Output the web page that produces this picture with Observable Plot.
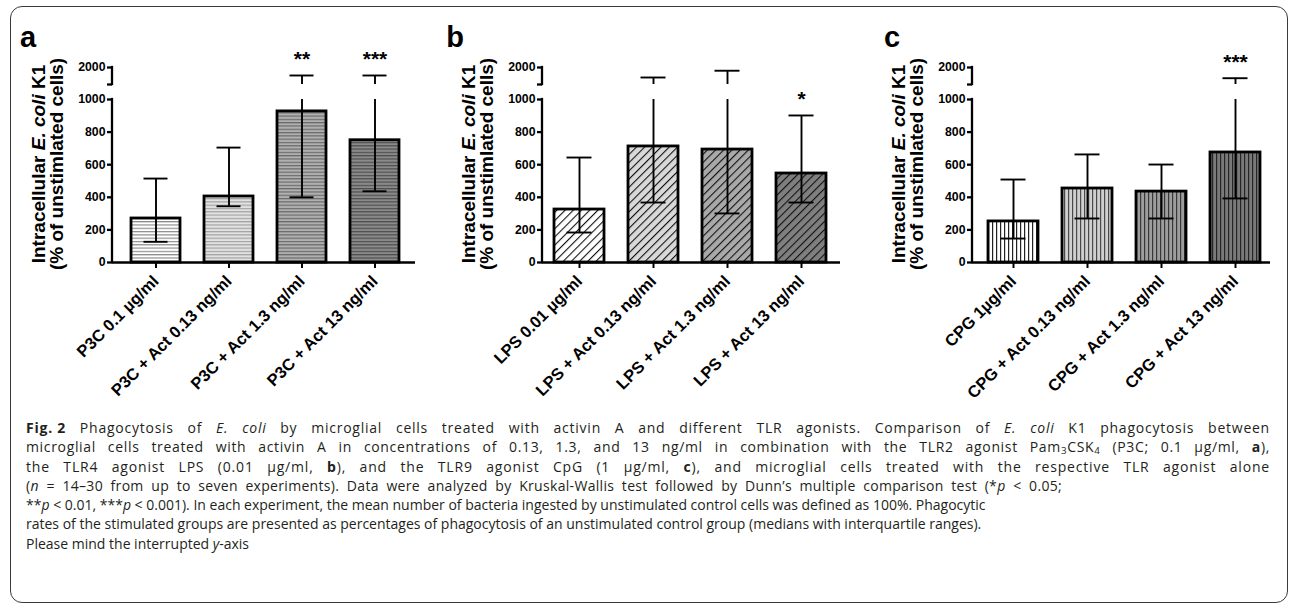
<!DOCTYPE html>
<html><head><meta charset="utf-8">
<script src="https://cdn.jsdelivr.net/npm/d3@7"></script>
<script src="https://cdn.jsdelivr.net/npm/@observablehq/plot@0.6"></script>
<style>
body{margin:0;background:#fff;}
#wrap{position:relative;width:1295px;height:605px;overflow:hidden;font-family:"Liberation Sans",Arial,sans-serif;}
#frame{position:absolute;left:10px;top:6px;width:1278px;height:597px;border:1.5px solid #3a3a3a;border-radius:12px;box-sizing:border-box;}
.panel{position:absolute;top:0;}
#caption{position:absolute;left:26px;top:418px;width:1250px;font-family:"Open Sans",sans-serif;font-size:14px;line-height:19.3px;color:#231f20;}
.ln{white-space:nowrap;}
.ln span.in{display:inline-block;white-space:nowrap;}
.ln b.fig{word-spacing:normal;}
sub{font-size:70%;vertical-align:-2px;line-height:0;}
</style></head>
<body>
<div id="wrap">
<svg id="defs" width="0" height="0" style="position:absolute;left:0;top:0"><defs></defs></svg>
<div id="frame"></div>
<div id="pa" class="panel" style="left:0px"></div>
<div id="pb" class="panel" style="left:430px"></div>
<div id="pc" class="panel" style="left:860px"></div>
<div id="caption">
<div class="ln" data-w="1244"><span class="in"><b class="fig">Fig. 2</b> Phagocytosis of <i>E. coli</i> by microglial cells treated with activin A and different TLR agonists. Comparison of <i>E. coli</i> K1 phagocytosis between</span></div>
<div class="ln" data-w="1244"><span class="in">microglial cells treated with activin A in concentrations of 0.13, 1.3, and 13 ng/ml in combination with the TLR2 agonist Pam<sub>3</sub>CSK<sub>4</sub> (P3C; 0.1 µg/ml, <b>a</b>),</span></div>
<div class="ln" data-w="1244"><span class="in">the TLR4 agonist LPS (0.01 µg/ml, <b>b</b>), and the TLR9 agonist CpG (1 µg/ml, <b>c</b>), and microglial cells treated with the respective TLR agonist alone</span></div>
<div class="ln" data-w="1036"><span class="in">(<i>n</i> = 14–30 from up to seven experiments). Data were analyzed by Kruskal-Wallis test followed by Dunn’s multiple comparison test (*<i>p</i> &lt; 0.05;</span></div>
<div class="ln"><span class="in">**<i>p</i> &lt; 0.01, ***<i>p</i> &lt; 0.001). In each experiment, the mean number of bacteria ingested by unstimulated control cells was defined as 100%. Phagocytic</span></div>
<div class="ln"><span class="in">rates of the stimulated groups are presented as percentages of phagocytosis of an unstimulated control group (medians with interquartile ranges).</span></div>
<div class="ln"><span class="in">Please mind the interrupted <i>y</i>-axis</span></div>
</div>
</div>
<script>
// ---- data ----
const catsA = ["P3C 0.1 µg/ml", "P3C + Act 0.13 ng/ml", "P3C + Act 1.3 ng/ml", "P3C + Act 13 ng/ml"];
const medA = [270, 405, 927, 750];
const q1A = [127, 345, 400, 437];
const q3A = [515, 705, 1765, 1765];
const starsA = ["", "", "**", "***"];

const catsB = ["LPS 0.01 µg/ml", "LPS + Act 0.13 ng/ml", "LPS + Act 1.3 ng/ml", "LPS + Act 13 ng/ml"];
const medB = [325, 712, 693, 546];
const q1B = [184, 368, 301, 368];
const q3B = [644, 1706, 1905, 902];
const starsB = ["", "", "", "*"];

const catsC = ["CPG 1µg/ml", "CPG + Act 0.13 ng/ml", "CPG + Act 1.3 ng/ml", "CPG + Act 13 ng/ml"];
const medC = [252, 454, 435, 675];
const q1C = [147, 270, 270, 393];
const q3C = [509, 663, 601, 1685];
const starsC = ["", "", "", "***"];

const yTicks = [0, 200, 400, 600, 800, 1000, 1500, 2000];
const yBreak = [1000, 1500]; // interrupted segment of the y-axis

// ---- patterns ----
const NS = "http://www.w3.org/2000/svg";
const defs = document.querySelector("#defs defs");
function pat(id, base, line, period, lw, rot) {
  const p = document.createElementNS(NS, "pattern");
  p.setAttribute("id", id);
  p.setAttribute("patternUnits", "userSpaceOnUse");
  p.setAttribute("width", period);
  p.setAttribute("height", period);
  if (rot) p.setAttribute("patternTransform", `rotate(${rot})`);
  const r = document.createElementNS(NS, "rect");
  r.setAttribute("width", period); r.setAttribute("height", period); r.setAttribute("fill", base);
  p.appendChild(r);
  const l = document.createElementNS(NS, "rect");
  if (rot === 0) { l.setAttribute("width", period); l.setAttribute("height", lw); }
  else { l.setAttribute("width", lw); l.setAttribute("height", period); }
  l.setAttribute("fill", line);
  p.appendChild(l);
  defs.appendChild(p);
}
const baseA = ["#ffffff", "#e2e2e2", "#b0b0b0", "#8a8a8a"], lineA = ["#8c8c8c", "#a2a2a2", "#6a6a6a", "#4e4e4e"];
const baseB = ["#ffffff", "#d9d9d9", "#a9a9a9", "#7f7f7f"], lineB = ["#111", "#111", "#111", "#111"];
const baseC = ["#ffffff", "#cfcfcf", "#9d9d9d", "#7a7a7a"], lineC = ["#222", "#4a4a4a", "#383838", "#262626"];
for (let i = 0; i < 4; i++) {
  pat("pa" + i, baseA[i], lineA[i], 3.3, 1.2, 0);
  pat("pb" + i, baseB[i], lineB[i], 5.8, 1.1, 45);
  pat("pc" + i, baseC[i], lineC[i], 4, 1.2, null);
}

function panel(el, key, cats, med, q1, q3, stars, xr, mr, letter, letterX) {
  const data = cats.map((c, i) => ({c, i, med: med[i], q1: q1[i], q3: q3[i], s: stars[i]}));
  const ink = "#000";
  const plot = Plot.plot({
    width: 430, height: 410,
    marginLeft: 112, marginRight: mr, marginTop: 0, marginBottom: 148,
    style: {fontFamily: "'Liberation Sans', Arial, sans-serif", fontWeight: "bold", background: "transparent", color: "#000"},
    x: {domain: cats, range: xr, paddingInner: 0.324, paddingOuter: 0, label: null},
    y: {type: "linear", domain: [0, yBreak[0], yBreak[1], 2000], range: [262, 99, 84, 67], label: null},
    color: {type: "identity"},
    marks: [
      Plot.barY(data, {x: "c", y: "med", fill: d => `url(#${key}${d.i})`, stroke: ink, strokeWidth: 2.8}),
      Plot.ruleX(data, {x: "c", y1: "q1", y2: d => Math.min(d.q3, yBreak[0]), stroke: ink, strokeWidth: 1.9}),
      Plot.ruleX(data.filter(d => d.q3 > yBreak[0]), {x: "c", y1: () => yBreak[1], y2: "q3", stroke: ink, strokeWidth: 1.9}),
      Plot.tickY(data, {x: "c", y: "q3", insetLeft: 12.5, insetRight: 12.5, stroke: ink, strokeWidth: 1.9}),
      Plot.tickY(data, {x: "c", y: "q1", insetLeft: 12.5, insetRight: 12.5, stroke: ink, strokeWidth: 1.9}),
      Plot.text(data, {x: "c", y: "q3", text: "s", dy: -16, fontSize: 21, fontWeight: "bold", fill: ink}),
      Plot.ruleY([0], {stroke: ink, strokeWidth: 2.3}),
      Plot.axisY({ticks: yTicks, tickFormat: d => d === yBreak[1] ? "" : String(d), tickSize: 5, tickPadding: 2,
        fontSize: 12.3, fontWeight: "bold", stroke: ink, strokeWidth: 2.3, fill: ink, label: null}),
      Plot.axisX({tickRotate: -45, tickSize: 6, tickPadding: 10, fontSize: 16.5, fontWeight: "bold",
        stroke: ink, strokeWidth: 2, fill: ink, label: null})
    ]
  });
  const svg = d3.select(plot);
  svg.selectAll("text").attr("font-weight", "bold");
  const ys = plot.scale("y");
  [[0, yBreak[0]], [yBreak[1], 2000]].forEach(([a, b]) => {
    svg.append("line").attr("x1", 112).attr("x2", 112)
      .attr("y1", ys.apply(a)).attr("y2", ys.apply(b))
      .attr("stroke", ink).attr("stroke-width", 2.3).attr("stroke-linecap", "square");
  });
  const ff = "'Liberation Sans', Arial, sans-serif";
  const t1 = svg.append("text").attr("transform", "translate(45,164) rotate(-90)")
    .attr("text-anchor", "middle").attr("font-weight", "bold").attr("font-size", 19).attr("font-family", ff).attr("fill", ink);
  t1.append("tspan").text("Intracellular ");
  t1.append("tspan").attr("font-style", "italic").text("E. coli");
  t1.append("tspan").text(" K1");
  svg.append("text").attr("transform", "translate(63,164) rotate(-90)")
    .attr("text-anchor", "middle").attr("font-weight", "bold").attr("font-size", 19).attr("font-family", ff).attr("fill", ink)
    .text("(% of unstimlated cells)");
  svg.append("text").attr("x", letterX).attr("y", 47).attr("font-size", 29).attr("font-weight", "bold")
    .attr("font-family", ff).attr("fill", ink).text(letter);
  document.getElementById(el).appendChild(plot);
}

panel("pa", "pa", catsA, medA, q1A, q3A, starsA, [129, 401], 15, "a", 28);
panel("pb", "pb", catsB, medB, q1B, q3B, starsB, [124, 397], 20, "b", 25);
panel("pc", "pc", catsC, medC, q1C, q3C, starsC, [127, 401], 20, "c", 32);

// justify caption lines to their measured widths (split between letter and word spacing)
document.querySelectorAll("#caption .ln").forEach(div => {
  const w = +div.dataset.w;
  if (!w) return;
  const span = div.querySelector(".in");
  const nat = span.getBoundingClientRect().width;
  const txt = span.textContent;
  const spaces = (txt.match(/ /g) || []).length - (span.querySelector(".fig") ? 1 : 0);
  const chars = txt.length;
  const extra = w - nat;
  const ls = extra * 0.35 / chars;
  span.style.letterSpacing = ls + "px";
  const nat2 = span.getBoundingClientRect().width;
  if (spaces) span.style.wordSpacing = ((w - nat2) / spaces) + "px";
});
</script>
</body></html>
